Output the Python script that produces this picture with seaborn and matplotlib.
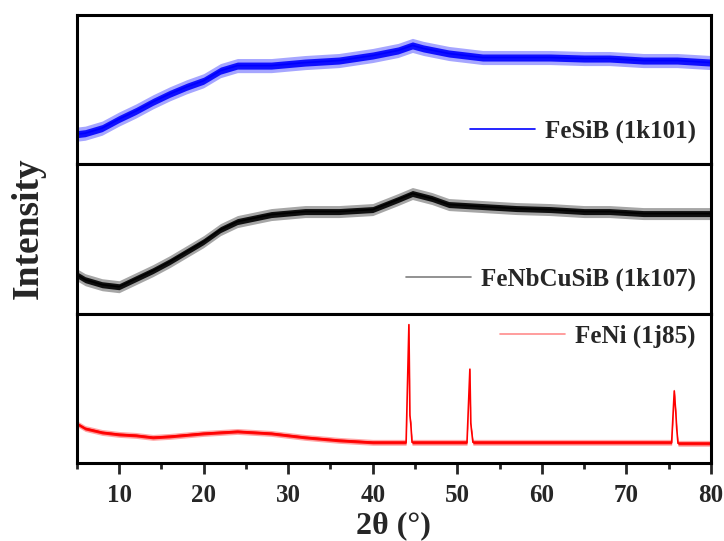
import matplotlib.pyplot as plt
import seaborn as sns
import numpy as np
import pandas as pd
from matplotlib.lines import Line2D
from matplotlib.ticker import MultipleLocator

# values (intensity in arbitrary units, one panel each)
two_theta_fesib = [5, 6, 8, 10, 12, 14, 16, 18, 20, 22, 24, 28, 32, 36, 40, 43,
                   44.7, 46, 49, 53, 57, 61, 65, 68, 72, 76, 80]
fesib = [30, 31, 36, 45, 53, 62, 70, 77, 83, 93, 98, 98, 101, 103, 108, 113,
         118, 115, 110, 106, 106, 106, 105, 105, 103, 103, 101]

two_theta_fenbcusib = [5, 6, 8, 10, 12, 14, 16, 18, 20, 22, 24, 28, 32, 36, 40, 43,
                       44.7, 47, 49, 53, 57, 61, 65, 68, 72, 76, 80]
fenbcusib = [39, 34, 29, 27, 35, 43, 52, 62, 72, 84, 92, 99, 102, 102, 104, 114,
             120, 115, 109, 107, 105, 104, 102, 102, 100, 100, 100]

two_theta_feni = [5, 6, 8, 10, 12, 14, 16, 20, 22, 24, 28, 32, 36, 40,
                  43.95, 44.28, 44.4, 44.5, 44.65,
                  51.15, 51.49, 51.6, 51.7, 51.85,
                  60, 70, 75.35, 75.66, 75.85, 75.95, 76.1, 80]
feni = [40, 35, 31, 29, 28, 26, 27, 30, 31, 32, 30, 26, 23, 21,
        21, 140, 48, 40, 21,
        21, 95, 40, 32, 21,
        21, 21, 21, 73, 50, 35, 20, 20]

# spread of the noisy trace (half width, same units)
noise = {"FeSiB (1k101)": 7, "FeNbCuSiB (1k107)": 6, "FeNi (1j85)": 3}

labels = ["FeSiB (1k101)", "FeNbCuSiB (1k107)", "FeNi (1j85)"]
colors = ["#0000ff", "#000000", "#ff0000"]
legend_colors = ["#0000ff", "#7f7f7f", "#ff8c8c"]
ylims = [148, 149, 151]
legend_pos = [(1.0, 0.22), (1.0, 0.23), (1.0, 0.85)]

sns.set_theme(style="ticks")
plt.rcParams['font.family'] = ['Liberation Serif', 'DejaVu Serif']
plt.rcParams['font.weight'] = 'bold'

fig, axes = plt.subplots(3, 1, figsize=(7.24, 5.41), dpi=100, sharex=True)
fig.subplots_adjust(left=0.106, right=0.982, top=0.972, bottom=0.144, hspace=0)

series = [(two_theta_fesib, fesib), (two_theta_fenbcusib, fenbcusib), (two_theta_feni, feni)]

for ax, (tt, inten), lab, col, lcol, ym, lp in zip(axes, series, labels, colors,
                                                  legend_colors, ylims, legend_pos):
    df = pd.DataFrame({"2theta": tt, "I": inten})
    h = noise[lab]
    x = np.array(tt)
    y = np.array(inten, dtype=float)
    ax.fill_between(x, y - h, y + h, color=col, alpha=0.35, lw=0)
    ax.fill_between(x, y - h * 0.5, y + h * 0.5, color=col, alpha=0.9, lw=0)
    sns.lineplot(data=df, x="2theta", y="I", ax=ax, color=col, lw=1.2, legend=False)
    ax.set_ylim(0, ym)
    ax.set_xlim(5, 80)
    ax.set_yticks([])
    ax.set_ylabel("")
    ax.set_xlabel("")
    for s in ax.spines.values():
        s.set_linewidth(2.2)
        s.set_color("black")
    handle = Line2D([], [], color=lcol, lw=1.2)
    ax.legend([handle], [lab], loc="center right", bbox_to_anchor=lp, frameon=False,
              prop={'size': 18, 'weight': 'bold'}, handlelength=2.6, handletextpad=0.4,
              borderaxespad=0.2)

bottom = axes[-1]
bottom.xaxis.set_major_locator(MultipleLocator(10))
bottom.xaxis.set_minor_locator(MultipleLocator(5))
bottom.tick_params(axis='x', which='major', direction='out', length=8, width=2,
                   labelsize=18, pad=7)
bottom.tick_params(axis='x', which='minor', direction='out', length=4, width=2)
for ax in axes[:-1]:
    ax.tick_params(axis='x', which='both', length=0)
bottom.set_xlabel("2θ (°)", fontsize=23, fontweight='bold', labelpad=3)
fig.text(0.039, 0.579, "Intensity", rotation=90, fontsize=27, fontweight='bold',
         ha='center', va='center')

plt.savefig("out.png", dpi=100)
